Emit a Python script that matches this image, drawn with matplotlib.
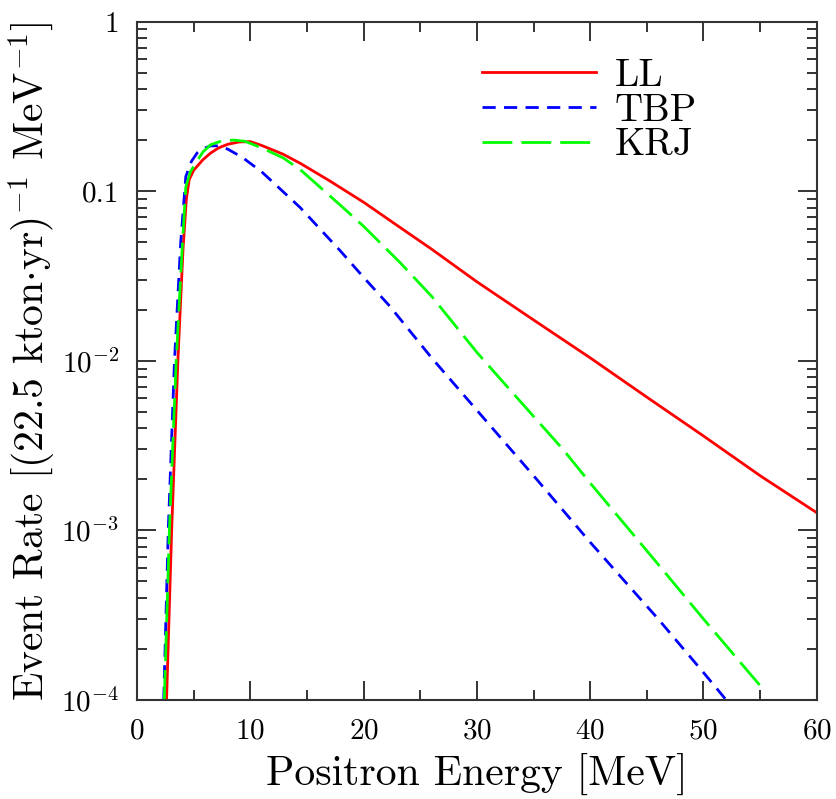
import matplotlib
matplotlib.use("Agg")
import matplotlib.pyplot as plt
from matplotlib.ticker import MultipleLocator, LogLocator, NullFormatter

plt.rcParams['font.family'] = ['cmr10', 'DejaVu Serif']
plt.rcParams['mathtext.fontset'] = 'cm'
plt.rcParams['axes.formatter.use_mathtext'] = True
plt.rcParams['lines.scale_dashes'] = False

# positron energy [MeV] and event rate
e_ll = [2.6, 3.05, 3.6, 4.05, 4.35, 4.6, 5.0, 5.8, 6.5, 7.2, 8.0, 9.0, 10.0, 11.0,
        12.9, 14.4, 17, 20, 23, 26, 30, 35, 40, 45, 50, 55, 60]
r_ll = [1e-4, 1e-3, 1e-2, 0.045, 0.09, 0.117, 0.133, 0.153, 0.168, 0.18, 0.189, 0.195,
        0.196, 0.186, 0.165, 0.146, 0.115, 0.086, 0.0625, 0.0455, 0.0292, 0.0174, 0.0104,
        0.0061, 0.0036, 0.0021, 0.00127]

e_tbp = [2.35, 2.75, 3.3, 3.85, 4.3, 4.8, 5.3, 5.8, 6.5, 7.2, 8.0, 9.3, 11.0, 12.5,
         14.4, 18, 20, 22.3, 26, 30, 35, 40, 46, 50, 52]
r_tbp = [1e-4, 1e-3, 1e-2, 0.05, 0.122, 0.150, 0.168, 0.178, 0.185, 0.185, 0.177, 0.158,
         0.13, 0.105, 0.080, 0.044, 0.031, 0.021, 0.0104, 0.0051, 0.0021, 8.5e-4, 3.0e-4,
         1.45e-4, 1e-4]

e_krj = [2.4, 2.85, 3.45, 3.97, 4.3, 4.7, 5.2, 5.8, 6.5, 7.5, 8.5, 9.5, 11.0, 12.9,
         14.4, 18, 20, 23.2, 26, 30, 32, 35, 37.6, 40, 46, 50, 55.3]
r_krj = [1e-4, 1e-3, 1e-2, 0.045, 0.106, 0.13, 0.147, 0.17, 0.188, 0.198, 0.2, 0.197,
         0.18, 0.157, 0.134, 0.082, 0.062, 0.038, 0.024, 0.0112, 0.0079, 0.0047, 0.003,
         0.0019, 6.3e-4, 3.0e-4, 1.15e-4]

ytick_vals = [1e-4, 1e-3, 1e-2, 0.1, 1]
ytick_labels = ['$10^{-4}$', '$10^{-3}$', '$10^{-2}$', '0.1', '1']

fig = plt.figure(figsize=(8.36, 7.99), dpi=100)
ax = fig.add_axes([0.164, 0.124, 0.813, 0.849])

ax.plot(e_ll, r_ll, color='#ff0000', lw=2, label='LL')
ax.plot(e_tbp, r_tbp, color='#0000ff', lw=2, dashes=(9.5, 6), label='TBP')
ax.plot(e_krj, r_krj, color='#00ff00', lw=2, dashes=(21.5, 6.5), label='KRJ')

ax.set_yscale('log')
ax.set_xlim(0, 60)
ax.set_ylim(1e-4, 1)
ax.set_yticks(ytick_vals, ytick_labels)
ax.yaxis.set_minor_locator(LogLocator(base=10, subs=range(2, 10), numticks=20))
ax.yaxis.set_minor_formatter(NullFormatter())
ax.xaxis.set_major_locator(MultipleLocator(10))
ax.xaxis.set_minor_locator(MultipleLocator(5))

ax.tick_params(which='both', direction='in', top=True, right=True, width=1.4,
               colors='#333333', labelcolor='black')
ax.tick_params(which='major', length=14, labelsize=21, pad=13)
ax.tick_params(which='minor', length=7)
for s in ax.spines.values():
    s.set_linewidth(1.5)
    s.set_color('#333333')

ax.set_xlabel('Positron Energy [MeV]', fontsize=30, labelpad=6)
ax.set_ylabel(r'Event Rate [(22.5 kton$\cdot$yr)$^{-1}$ MeV$^{-1}$]', fontsize=30,
              labelpad=2)

ax.legend(loc='upper left', bbox_to_anchor=(0.507, 0.946), frameon=False, fontsize=28,
          handlelength=2.95, handletextpad=0.46, labelspacing=-0.03, borderpad=0,
          borderaxespad=0)

fig.savefig('out.png', dpi=100)
